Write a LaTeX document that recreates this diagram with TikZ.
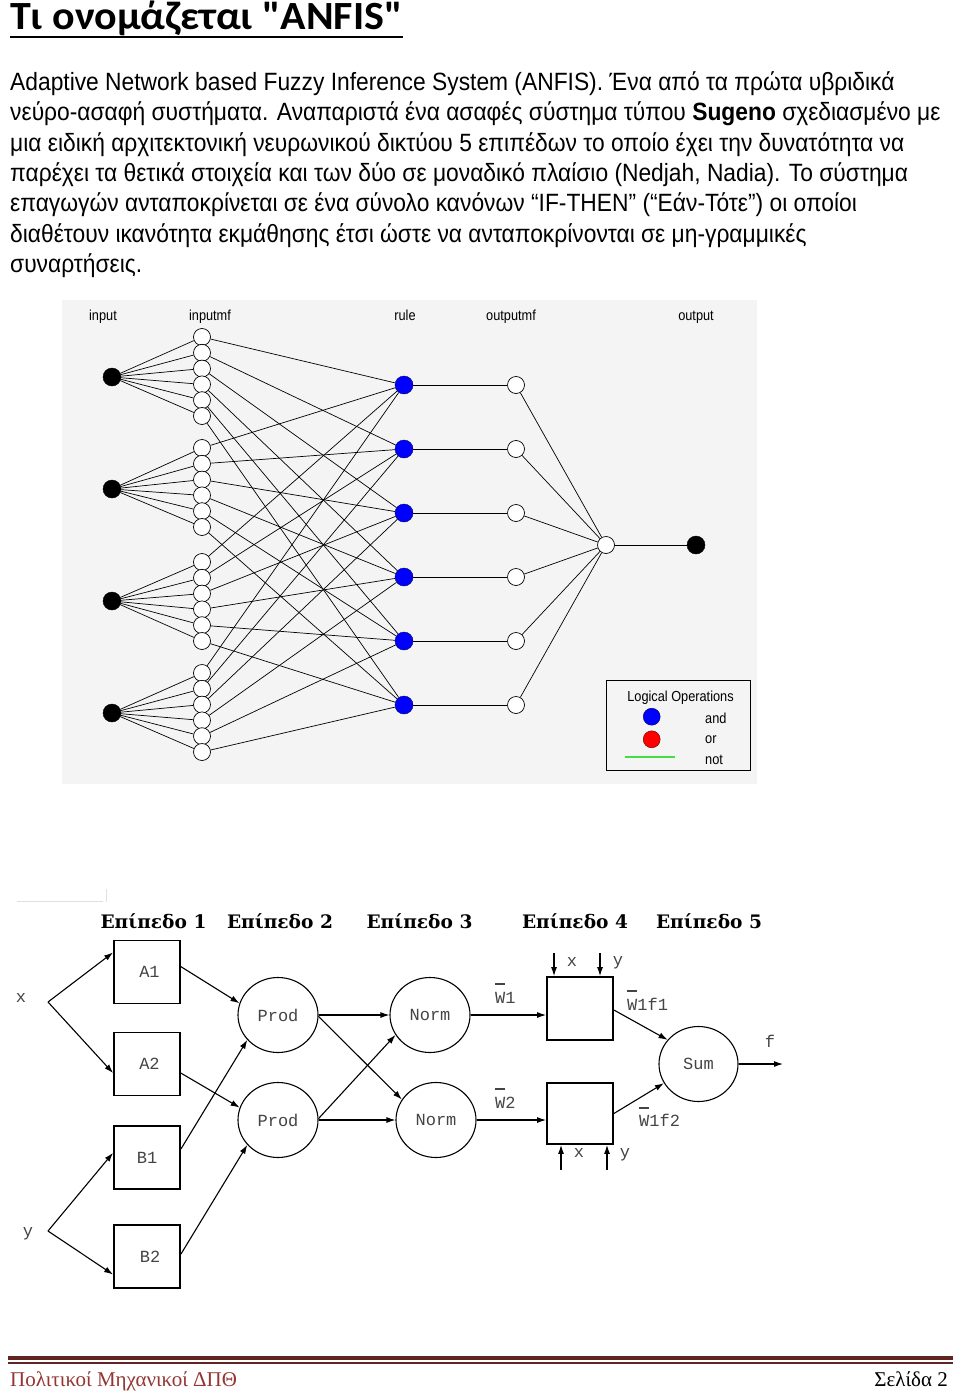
\documentclass[tikz,border=0pt]{standalone}
\usepackage{fontspec}
\setmainfont{Liberation Sans}
\newfontfamily\bodyfont{Liberation Sans}[FakeStretch=0.912]
\newfontfamily\titlefont{Carlito}[FakeStretch=1.05]
\newfontfamily\panelfont{Liberation Sans}[FakeStretch=0.88]
\newfontfamily\codefont{Liberation Mono}
\newfontfamily\levelfont{DejaVu Serif}
\newfontfamily\footerfont{Liberation Serif}
\usetikzlibrary{arrows.meta, shapes.geometric}

\definecolor{panelgray}{HTML}{F4F4F4}
\definecolor{ruleblue}{HTML}{0000FF}
\definecolor{legendred}{HTML}{FF0000}
\definecolor{legendgreen}{HTML}{44DD44}
\definecolor{footred}{HTML}{943634}
\definecolor{footline}{HTML}{622423}
\definecolor{codegray}{HTML}{444444}

% W with a bar over it
\newcommand{\barW}{\makebox[0pt][l]{\rule[18pt]{10pt}{1.6pt}}W}

\begin{document}
\begin{tikzpicture}[x=1pt, y=-1pt,
    bodyline/.style={anchor=base west, inner sep=0pt, font=\bodyfont\fontsize{25}{30}\selectfont},
    paneltext/.style={inner sep=0pt, font=\panelfont\fontsize{14.5}{16}\selectfont},
    blacknode/.style={circle, draw=black, fill=black, minimum size=18pt, inner sep=0pt},
    whitenode/.style={circle, draw=black, fill=white, minimum size=17pt, inner sep=0pt, line width=0.7pt},
    bluenode/.style={circle, draw=black!60!blue, fill=ruleblue, minimum size=18pt, inner sep=0pt},
    wire/.style={line width=0.7pt},
    layerbox/.style={draw, line width=1.8pt, minimum width=66pt, minimum height=63pt, inner sep=0pt,
        font=\codefont\fontsize{17}{17}\selectfont, text=codegray},
    opnode/.style={ellipse, draw, line width=1.1pt, minimum width=80pt, minimum height=75pt, inner sep=0pt,
        font=\codefont\fontsize{17}{17}\selectfont, text=codegray},
    codetext/.style={inner sep=0pt, font=\codefont\fontsize{17}{17}\selectfont, text=codegray},
    levelhead/.style={inner sep=0pt, font=\levelfont\bfseries\fontsize{18.6}{20}\selectfont},
    arr/.style={-{Latex[length=9pt,width=6pt]}, line width=1.1pt}
]

    % the page
    \useasboundingbox (0,0) rectangle (960,1391);
    \fill[white] (0,0) rectangle (960,1391);

    % title and its underline
    \node[anchor=base west, inner sep=0pt, font=\titlefont\bfseries\fontsize{40}{44}\selectfont] (title) at (10,30) {Τι ονομάζεται "ANFIS"};
    \draw[line width=2.5pt] ([yshift=-7pt]title.base west) -- ([yshift=-7pt]title.base east);

    % the text under the title
    \node[bodyline] (line1) at (10,90.5) {Adaptive Network based Fuzzy Inference System (ANFIS). Ένα από τα πρώτα υβριδικά};
    \node[bodyline] (line2) at (10,120.8) {νεύρο-ασαφή συστήματα. Αναπαριστά ένα ασαφές σύστημα τύπου \textbf{Sugeno} σχεδιασμένο με};
    \node[bodyline] (line3) at (10,151.1) {μια ειδική αρχιτεκτονική νευρωνικού δικτύου 5 επιπέδων το οποίο έχει την δυνατότητα να};
    \node[bodyline] (line4) at (10,181.4) {παρέχει τα θετικά στοιχεία και των δύο σε μοναδικό πλαίσιο (Nedjah, Nadia). Το σύστημα};
    \node[bodyline] (line5) at (10,211.7) {επαγωγών ανταποκρίνεται σε ένα σύνολο κανόνων “IF-THEN” (“Εάν-Τότε”) οι οποίοι};
    \node[bodyline] (line6) at (10,242.0) {διαθέτουν ικανότητα εκμάθησης έτσι ώστε να ανταποκρίνονται σε μη-γραμμικές};
    \node[bodyline] (line7) at (10,272.3) {συναρτήσεις.};

    % ---- the anfis network panel ----
    \fill[panelgray] (62,300) rectangle (757,784);
    \node[paneltext, anchor=base] (capin) at (103,320) {input};
    \node[paneltext, anchor=base] (capimf) at (210,320) {inputmf};
    \node[paneltext, anchor=base] (caprule) at (405,320) {rule};
    \node[paneltext, anchor=base] (capomf) at (511,320) {outputmf};
    \node[paneltext, anchor=base] (capout) at (696,320) {output};

    % inputs, each with six membership functions
    \foreach \i/\y/\m in {1/377/337, 2/489/448, 3/601/562, 4/713/673} {
        \node[blacknode] (in\i) at (112,\y) {};
        \foreach \j in {1,...,6}
            \node[whitenode] (mf\i\j) at (202,{\m+15.8*(\j-1)}) {};
    }
    % rules and output membership functions
    \foreach \j in {1,...,6} {
        \node[bluenode] (rule\j) at (404,{385+64*(\j-1)}) {};
        \node[whitenode] (omf\j) at (516,{385+64*(\j-1)}) {};
    }
    \node[whitenode] (agg) at (606,545) {};
    \node[blacknode] (out) at (696,545) {};

    % wires
    \foreach \i in {1,...,4}
        \foreach \j in {1,...,6} {
            \draw[wire] (in\i) -- (mf\i\j);
            \draw[wire] (mf\i\j) -- (rule\j);
        }
    \foreach \j in {1,...,6} {
        \draw[wire] (rule\j) -- (omf\j);
        \draw[wire] (omf\j) -- (agg);
    }
    \draw[wire] (agg) -- (out);

    % legend
    \node[draw=black, line width=0.8pt, minimum width=144pt, minimum height=90pt, inner sep=0pt] (legend) at (678.7,725.4) {};
    \node[paneltext] (legtitle) at (680.5,698) {Logical Operations};
    \node[circle, draw=black!60!blue, fill=ruleblue, minimum size=17pt, inner sep=0pt] (legand) at (651.7,716.7) {};
    \node[circle, draw=black!60!red, fill=legendred, minimum size=17pt, inner sep=0pt] (legor) at (651.7,739.3) {};
    \draw[legendgreen, line width=1.6pt] (625,756.7) -- (675,756.7);
    \node[paneltext, anchor=west] (txtand) at (705,718) {and};
    \node[paneltext, anchor=west] (txtor) at (705,740) {or};
    \node[paneltext, anchor=west] (txtnot) at (705,760) {not};

    % ---- the five layers ----
    % faint edge of the pasted picture
    \draw[black!12, line width=0.8pt] (17,901.5) -- (103,901.5);
    \draw[black!12, line width=0.8pt] (106,889) -- (106,902);

    \node[levelhead] (lev1) at (153.5,921) {Επίπεδο 1};
    \node[levelhead] (lev2) at (280,921) {Επίπεδο 2};
    \node[levelhead] (lev3) at (419.5,921) {Επίπεδο 3};
    \node[levelhead] (lev4) at (575,921) {Επίπεδο 4};
    \node[levelhead] (lev5) at (709,921) {Επίπεδο 5};

    % layer 1
    \node[layerbox] (A1) at (147,972) {\hspace*{5pt}A1};
    \node[layerbox] (A2) at (147,1064) {\hspace*{5pt}A2};
    \node[layerbox] (B1) at (147,1157.5) {B1};
    \node[layerbox] (B2) at (147,1256.5) {\hspace*{6pt}B2};
    \node[codetext] (xin) at (21,998) {x};
    \node[codetext] (yin) at (28,1234) {y};
    \coordinate (xfork) at (48,1002);
    \coordinate (yfork) at (48,1231);
    \draw[arr] (xfork) -- (A1.150);
    \draw[arr] (xfork) -- (A2.195);
    \draw[arr] (yfork) -- (B1.172);
    \draw[arr] (yfork) -- (B2.208);

    % layer 2
    \node[opnode] (prod1) at (278,1015) {Prod};
    \node[opnode] (prod2) at (278,1120) {Prod};
    \draw[arr] (A1.9) -- (prod1.163);
    \draw[arr] (A2.-15) -- (prod2.162);
    \draw[arr] (B1.14) -- (prod1.219);
    \draw[arr] (B2.4) -- (prod2.219);

    % layer 3
    \node[opnode] (norm1) at (430,1015) {Norm};
    \node[opnode] (norm2) at (436,1120) {Norm};
    \draw[arr] (prod1) -- (norm1);
    \draw[arr] (prod1.-2) -- (norm2.149);
    \draw[arr] (prod2.2) -- (norm1.210);
    \draw[arr] (prod2) -- (norm2);

    % layer 4
    \node[layerbox] (rule4a) at (580,1008.5) {};
    \node[layerbox, minimum height=61pt] (rule4b) at (580,1113.5) {};
    \draw[arr] (norm1.east) -- (norm1.east -| rule4a.west);
    \draw[arr] (norm2.east) -- (norm2.east -| rule4b.west);
    \node[codetext, anchor=base west] (w1) at (495,1003) {\barW1};
    \node[codetext, anchor=base west] (w2) at (495,1108) {\barW2};
    \coordinate (xa) at (554,953);
    \coordinate (ya) at (600,953);
    \coordinate (xb) at (561,1170);
    \coordinate (yb) at (607,1170);
    \draw[arr] (xa) -- (xa |- rule4a.north);
    \draw[arr] (ya) -- (ya |- rule4a.north);
    \draw[arr] (xb) -- (xb |- rule4b.south);
    \draw[arr] (yb) -- (yb |- rule4b.south);
    \node[codetext] (xlabA) at (572,962) {x};
    \node[codetext] (ylabA) at (618,963) {y};
    \node[codetext] (xlabB) at (579,1153) {x};
    \node[codetext] (ylabB) at (625,1155) {y};

    % layer 5
    \node[opnode, minimum width=79pt] (sum) at (698.5,1064) {Sum};
    \draw[arr] (rule4a.east) ++(0,1.5) -- (sum.142);
    \draw[arr] (rule4b.east) -- (sum.209);
    \node[codetext, anchor=base west] (w1f1) at (627,1010) {\barW1f1};
    \node[codetext, anchor=base west] (w1f2) at (639,1126.5) {\barW1f2};
    \coordinate (fend) at (783,1064);
    \draw[arr] (sum.east) -- (fend);
    \node[codetext] (flab) at (770,1041) {f};

    % ---- page footer ----
    \draw[footline, line width=4pt] (8,1358) -- (953,1358);
    \draw[footline, line width=1.2pt] (8,1363) -- (953,1363);
    \node[anchor=base west, inner sep=0pt, text=footred, font=\footerfont\fontsize{21}{24}\selectfont] (footleft) at (10,1386) {Πολιτικοί Μηχανικοί ΔΠΘ};
    \node[anchor=base east, inner sep=0pt, font=\footerfont\fontsize{21}{24}\selectfont] (footright) at (948,1386) {Σελίδα 2};

\end{tikzpicture}
\end{document}
